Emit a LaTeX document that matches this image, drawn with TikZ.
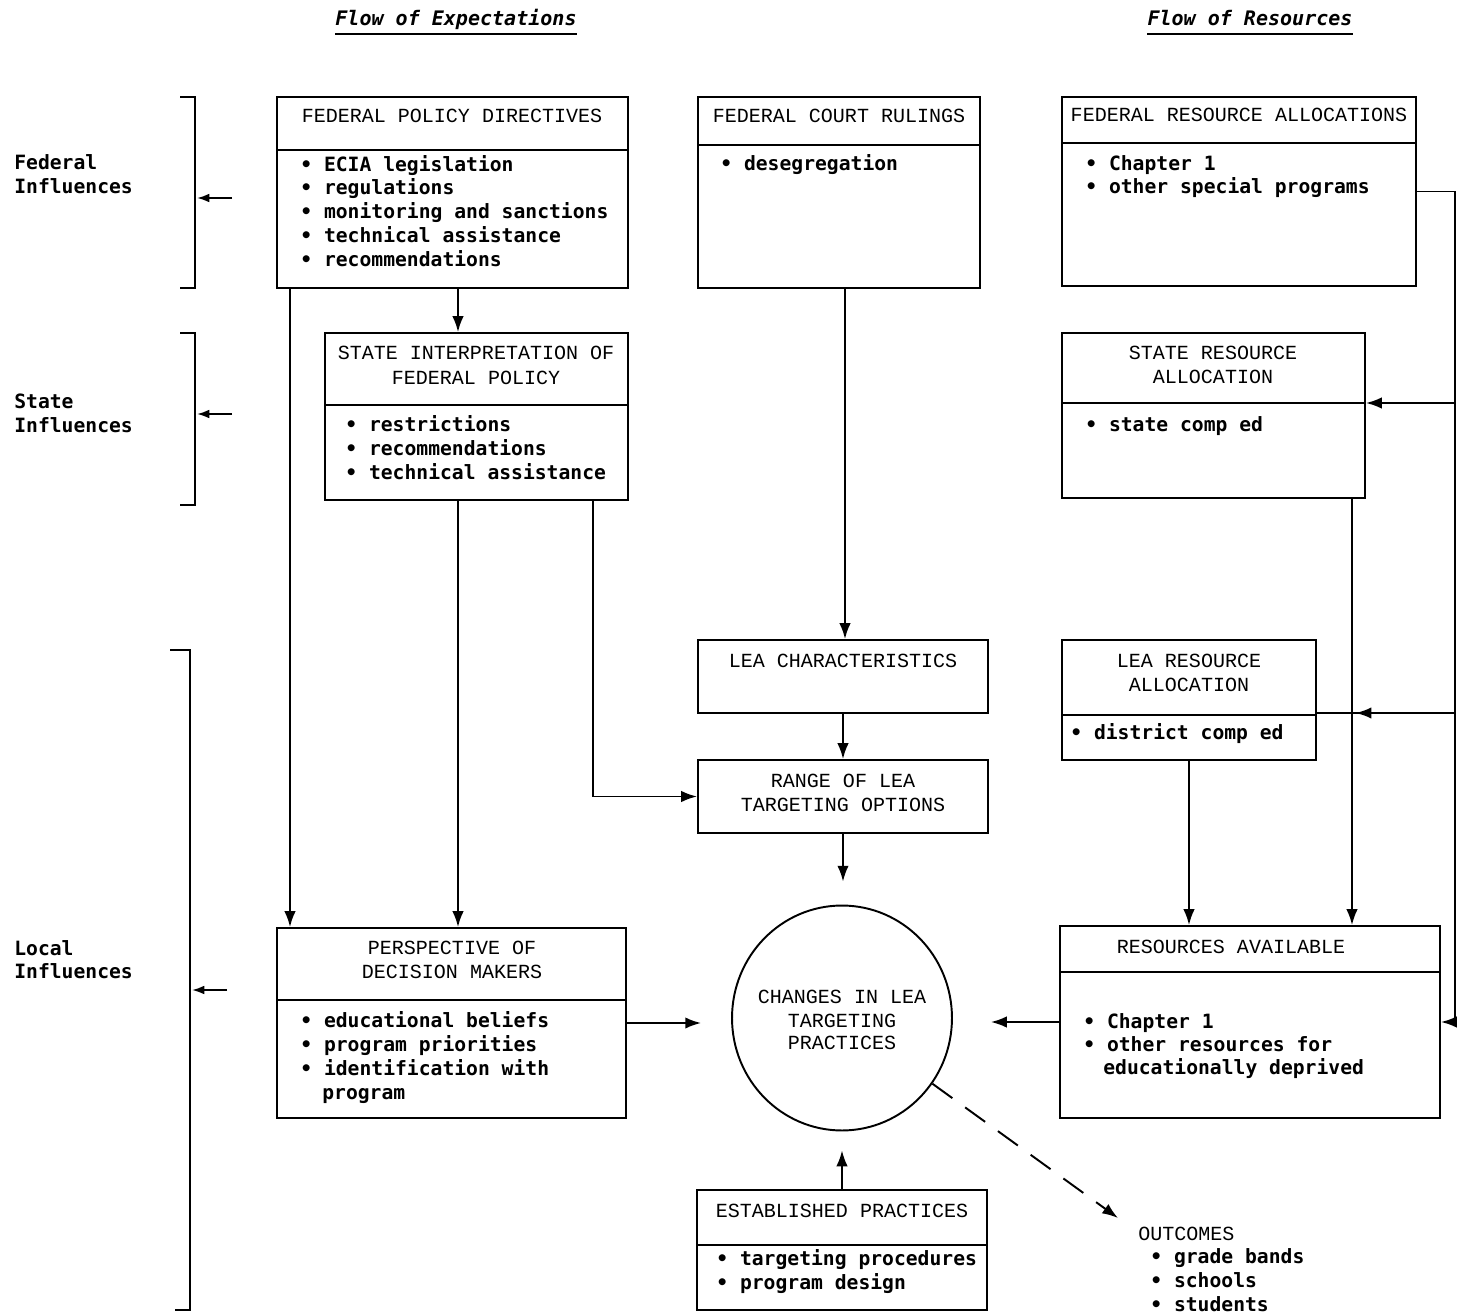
\documentclass[tikz,border=0pt]{standalone}
\usepackage{fontspec}
\setmainfont{Liberation Mono}
\newfontfamily\bmono{DejaVu Sans Mono}
\usetikzlibrary{arrows.meta,fit,shapes.geometric,decorations.markings,calc}
\begin{document}
\begin{tikzpicture}[x=0.02cm,y=-0.02cm,
  font=\fontsize{11.4pt}{13.66pt}\selectfont,
  box/.style={draw,line width=1.1pt,inner sep=0pt},
  ln/.style={line width=1.1pt},
  ttl/.style={anchor=base,inner sep=0pt},
  itm/.style={anchor=base west,inner sep=0pt,font=\fontsize{11.2pt}{13.66pt}\selectfont\bmono\bfseries},
  lbl/.style={anchor=base west,inner sep=0pt,font=\fontsize{11.2pt}{13.66pt}\selectfont\bmono\bfseries},
  hdr/.style={anchor=base,inner sep=0pt,font=\fontsize{11.4pt}{13.66pt}\selectfont\bmono\bfseries\itshape},
  arr/.style={line width=1.1pt,-{Latex[length=9pt,width=6.5pt]}},
  arrs/.style={line width=1.1pt,-{Latex[length=7pt,width=5pt]}},
  midarr/.style={line width=1.1pt,postaction={decorate},
     decoration={markings,mark=at position 0.72 with {\arrow{Latex[length=9pt,width=6.5pt]}}}},
]
\useasboundingbox (0,0) rectangle (1472,1315);

% column titles
\node[hdr] (t1) at (456,26) {Flow of Expectations};
\draw[line width=1pt] ($(t1.base west)+(0,8)$) -- ($(t1.base east)+(0,8)$);
\node[hdr] (t2) at (1250,26) {Flow of Resources};
\draw[line width=1pt] ($(t2.base west)+(0,8)$) -- ($(t2.base east)+(0,8)$);

% left labels
\node[lbl] (lf1) at (14,169) {Federal};
\node[lbl] (lf2) at (14,193) {Influences};
\node[lbl] (ls1) at (14,408) {State};
\node[lbl] (ls2) at (14,432) {Influences};
\node[lbl] (ll1) at (14,955) {Local};
\node[lbl] (ll2) at (14,978) {Influences};

% brackets
\draw[ln] (180,97) -- (195,97) -- (195,288) -- (180,288);
\draw[ln] (180,333) -- (195,333) -- (195,505) -- (180,505);
\draw[ln] (170,650) -- (190,650) -- (190,1310) -- (175,1310);
\coordinate (fa) at (232,198); \coordinate (fb) at (197,198);
\coordinate (sa) at (232,414); \coordinate (sb) at (197,414);
\coordinate (la) at (227,990); \coordinate (lb) at (192,990);
\draw[arrs] (fa) -- (fb);
\draw[arrs] (sa) -- (sb);
\draw[arrs] (la) -- (lb);

% FEDERAL POLICY DIRECTIVES
\node[box,fit={(277,97) (628,288)}] (fpd) {};
\draw[ln] (277,150) -- (628,150);
\node[ttl] (fpdt) at (452,122) {FEDERAL POLICY DIRECTIVES};
\node[itm] (fpd1) at (300,171) {• ECIA legislation};
\node[itm] (fpd2) at (300,194) {• regulations};
\node[itm] (fpd3) at (300,218) {• monitoring and sanctions};
\node[itm] (fpd4) at (300,242) {• technical assistance};
\node[itm] (fpd5) at (300,266) {• recommendations};

% FEDERAL COURT RULINGS
\node[box,fit={(698,97) (980,288)}] (fcr) {};
\draw[ln] (698,145) -- (980,145);
\node[ttl] (fcrt) at (839,122) {FEDERAL COURT RULINGS};
\node[itm] (fcr1) at (720,170) {• desegregation};

% FEDERAL RESOURCE ALLOCATIONS
\node[box,fit={(1062,97) (1416,286)}] (fra) {};
\draw[ln] (1062,143) -- (1416,143);
\node[ttl] (frat) at (1239,121) {FEDERAL RESOURCE ALLOCATIONS};
\node[itm] (fra1) at (1085,170) {• Chapter 1};
\node[itm] (fra2) at (1085,193) {• other special programs};

% STATE INTERPRETATION
\node[box,fit={(325,333) (628,500)}] (sifp) {};
\draw[ln] (325,405) -- (628,405);
\node[ttl] (sifpt1) at (476,359) {STATE INTERPRETATION OF};
\node[ttl] (sifpt2) at (476,384) {FEDERAL POLICY};
\node[itm] (sifp1) at (345,431) {• restrictions};
\node[itm] (sifp2) at (345,455) {• recommendations};
\node[itm] (sifp3) at (345,479) {• technical assistance};

% STATE RESOURCE ALLOCATION
\node[box,fit={(1062,333) (1365,498)}] (sra) {};
\draw[ln] (1062,403) -- (1365,403);
\node[ttl] (srat1) at (1213,359) {STATE RESOURCE};
\node[ttl] (srat2) at (1213,383) {ALLOCATION};
\node[itm] (sra1) at (1085,431) {• state comp ed};

% LEA CHARACTERISTICS
\node[box,fit={(698,640) (988,713)}] (leac) {};
\node[ttl] (leact) at (843,667) {LEA CHARACTERISTICS};

% LEA RESOURCE ALLOCATION
\node[box,fit={(1062,640) (1316,760)}] (lear) {};
\draw[ln] (1062,715) -- (1316,715);
\node[ttl] (leart1) at (1189,667) {LEA RESOURCE};
\node[ttl] (leart2) at (1189,691) {ALLOCATION};
\node[itm] (lear1) at (1070,739) {• district comp ed};

% RANGE OF LEA TARGETING OPTIONS
\node[box,fit={(698,760) (988,833)}] (range) {};
\node[ttl] (ranget1) at (843,787) {RANGE OF LEA};
\node[ttl] (ranget2) at (843,811) {TARGETING OPTIONS};

% PERSPECTIVE OF DECISION MAKERS
\node[box,fit={(277,928) (626,1118)}] (pdm) {};
\draw[ln] (277,1000) -- (626,1000);
\node[ttl] (pdmt1) at (452,954) {PERSPECTIVE OF};
\node[ttl] (pdmt2) at (452,978) {DECISION MAKERS};
\node[itm] (pdm1) at (300,1027) {• educational beliefs};
\node[itm] (pdm2) at (300,1051) {• program priorities};
\node[itm] (pdm3) at (300,1075) {• identification with};
\node[itm] (pdm4) at (322,1099) {program};

% CHANGES IN LEA TARGETING PRACTICES
\node[draw,ellipse,line width=1.1pt,minimum width=4.4cm,minimum height=4.5cm,inner sep=0pt] (circ) at (842,1018) {};
\node[ttl] (c1) at (842,1003) {CHANGES IN LEA};
\node[ttl] (c2) at (842,1027) {TARGETING};
\node[ttl] (c3) at (842,1049) {PRACTICES};

% RESOURCES AVAILABLE
\node[box,fit={(1060,926) (1440,1118)}] (ra) {};
\draw[ln] (1060,972) -- (1440,972);
\node[ttl] (rat) at (1231,953) {RESOURCES AVAILABLE};
\node[itm] (ra1) at (1083,1028) {• Chapter 1};
\node[itm] (ra2) at (1083,1051) {• other resources for};
\node[itm] (ra3) at (1103,1074) {educationally deprived};

% ESTABLISHED PRACTICES
\node[box,fit={(697,1190) (987,1310)}] (ep) {};
\draw[ln] (697,1245) -- (987,1245);
\node[ttl] (ept) at (842,1217) {ESTABLISHED PRACTICES};
\node[itm] (ep1) at (716,1265) {• targeting procedures};
\node[itm] (ep2) at (716,1289) {• program design};

% OUTCOMES
\node[anchor=base west,inner sep=0pt] (out) at (1138,1240) {OUTCOMES};
\node[itm] (out1) at (1150,1263) {• grade bands};
\node[itm] (out2) at (1150,1287) {• schools};
\node[itm] (out3) at (1150,1311) {• students};

% connectors: expectations
\coordinate (f1) at (290,288);
\draw[arr] (f1) -- (f1 |- pdm.north);
\coordinate (f2) at (458,288);
\draw[arr] (f2) -- (f2 |- sifp.north);
\coordinate (s1) at (458,500);
\draw[arr] (s1) -- (s1 |- pdm.north);
\coordinate (s2) at (593,500);
\draw[arr] (s2) |- (range.west);
\coordinate (c0) at (845,288);
\draw[arr] (c0) -- (c0 |- leac.north);
\draw[arr] (leac.south) -- (range.north);
\draw[arr,shorten >=0.46cm] (range.south) -- (range.south |- circ.north);
\draw[arr,shorten >=0.6cm] (pdm.east) -- (pdm.east -| circ.west);
\draw[arr,shorten >=0.76cm] (ra.west) -- (ra.west -| circ.east);
\draw[arr,shorten >=0.38cm] (ep.north) -- (ep.north |- circ.south);
\coordinate (oa) at (1118,1218);
\draw[arr,dashed,dash pattern=on 14pt off 9pt] (circ.-36) -- (oa);

% connectors: resources
\coordinate (trk) at (1455,600);
\draw[arr] (fra.east) -| (trk) |- (ra.east);
\coordinate (sj) at (1455,403);
\draw[arr] (sj) -- (sj -| sra.east);
\coordinate (lj) at (1455,713);
\draw[midarr] (lj) -- (lj -| lear.east);
\coordinate (r1) at (1352,498);
\draw[arr] (r1) -- (r1 |- ra.north);
\draw[arr] (lear.south) -- (lear.south |- ra.north);
\end{tikzpicture}
\end{document}
